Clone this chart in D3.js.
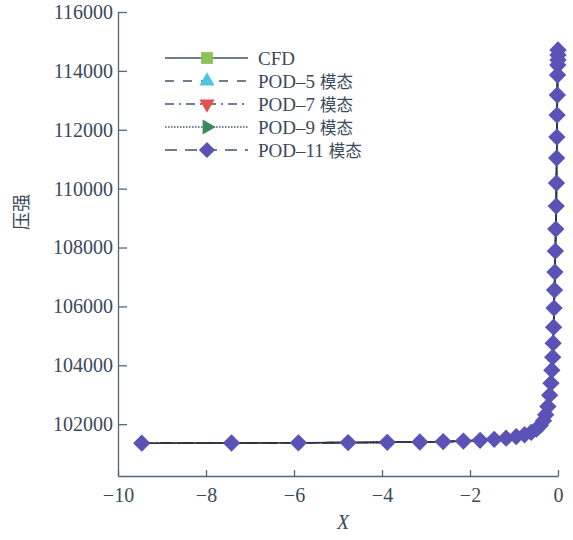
<!DOCTYPE html>
<html>
<head>
<meta charset="utf-8">
<script src="https://cdn.jsdelivr.net/npm/d3@7"></script>
<style>
  body { margin: 0; background: #fff; }
  svg text { font-family: "Liberation Serif", "DejaVu Serif", serif; fill: #3b4a5c; }
  .axis path, .axis line { stroke: #52677c; stroke-width: 1.3; }
  .axis text { font-size: 20px; }
</style>
</head>
<body>
<div id="chart"></div>
<script>
// x positions of mesh points
var xs = [-9.46, -7.42, -5.90, -4.77, -3.88, -3.14, -2.61, -2.15, -1.77, -1.45,
          -1.18, -0.95, -0.76, -0.61, -0.49, -0.40, -0.33, -0.28, -0.23, -0.19,
          -0.16, -0.14, -0.12, -0.11, -0.10, -0.09, -0.08, -0.07, -0.06, -0.05,
          -0.04, -0.035, -0.03, -0.025, -0.02, -0.015, -0.01, -0.005, 0, 0, 0];
// pressure, CFD
var cfd = [101354, 101360, 101368, 101375, 101384, 101395, 101408, 101425, 101452, 101485,
           101525, 101578, 101640, 101720, 101830, 101960, 102120, 102320, 102600, 102986,
           103394, 103835, 104277, 104752, 105296, 105942, 106554, 107165, 107879, 108626,
           109408, 110189, 111039, 111752, 112500, 113180, 113859, 114199, 114369, 114539, 114709];
// reduced models sit on top of the CFD curve
var pod5 = cfd.slice(), pod7 = cfd.slice(), pod9 = cfd.slice(), pod11 = cfd.slice();

var seriesNames = ["CFD", "POD\u20135 模态", "POD\u20137 模态", "POD\u20139 模态", "POD\u201311 模态"];
var seriesValues = [cfd, pod5, pod7, pod9, pod11];
var xTicks = [-10, -8, -6, -4, -2, 0];
var yTicks = [102000, 104000, 106000, 108000, 110000, 112000, 114000, 116000];

var styles = [
    {color: "#8dc15a", shape: "square", size: 140, dash: null},
    {color: "#4fc4e2", shape: "up", size: 100, dash: "9,9"},
    {color: "#e2524f", shape: "down", size: 100, dash: "9,5,2,5"},
    {color: "#3c8a5c", shape: "right", size: 100, dash: "1.5,1.5"},
    {color: "#5b52b6", shape: "diamond", size: 150, dash: "12,8"}
];

var w = 573, h = 540;
var svg = d3.select("#chart").append("svg").attr("width", w).attr("height", h);

var xScale = d3.scaleLinear().domain([-10, 0]).range([118, 558]);
var yScale = d3.scaleLinear().domain([100240, 116000]).range([476, 12]);

function symbolPath(shape, size) {
    if (shape == "square" || shape == "diamond") return d3.symbol().type(d3.symbolSquare).size(size)();
    return d3.symbol().type(d3.symbolTriangle).size(size)();
}
function symbolRot(shape) {
    return {square: 0, diamond: 45, up: 0, down: 180, right: 90}[shape];
}

// axes
var xAxis = d3.axisBottom(xScale).tickValues(xTicks).tickSizeInner(-6).tickSizeOuter(0).tickPadding(12);
svg.append("g").attr("class", "axis")
    .attr("transform", "translate(0," + yScale.range()[0] + ")")
    .call(xAxis);

var yAxis = d3.axisLeft(yScale).tickValues(yTicks).tickFormat(d3.format("d"))
    .tickSizeInner(-9).tickSizeOuter(0).tickPadding(5);
svg.append("g").attr("class", "axis")
    .attr("transform", "translate(" + xScale.range()[0] + ",0)")
    .call(yAxis);

svg.append("text").attr("x", 343).attr("y", 529).attr("text-anchor", "middle")
    .style("font-style", "italic").style("font-size", "20px").text("X");
svg.append("text").attr("transform", "translate(28,212) rotate(-90)")
    .attr("text-anchor", "middle")
    .style("font-family", "'Noto Sans CJK SC', sans-serif").style("font-size", "18px")
    .text("压强");

// curves
var line = d3.line().x(function(d) { return xScale(d[0]); }).y(function(d) { return yScale(d[1]); });
seriesValues.forEach(function(vals, i) {
    var pts = xs.map(function(x, j) { return [x, vals[j]]; });
    svg.append("path").datum(pts)
        .attr("d", line)
        .attr("fill", "none")
        .attr("stroke", "#2e3440")
        .attr("stroke-width", 1.6)
        .attr("stroke-dasharray", styles[i].dash);
});
// markers; the POD-11 diamonds are drawn last and hide the rest
seriesValues.forEach(function(vals, i) {
    var st = styles[i],
        sz = (i == seriesValues.length - 1) ? st.size : st.size * 0.4;
    svg.append("g").selectAll("path")
        .data(xs.map(function(x, j) { return [x, vals[j]]; }))
        .enter().append("path")
        .attr("d", symbolPath(st.shape, sz))
        .attr("transform", function(d) {
            return "translate(" + xScale(d[0]) + "," + yScale(d[1]) + ") rotate(" + symbolRot(st.shape) + ")";
        })
        .attr("fill", st.color);
});

// legend
var leg = svg.append("g").attr("transform", "translate(165,58)");
seriesNames.forEach(function(name, i) {
    var st = styles[i], y = i * 23;
    leg.append("line").attr("x1", 0).attr("x2", 83).attr("y1", y).attr("y2", y)
        .attr("stroke", "#3e556c").attr("stroke-width", 1.6)
        .attr("stroke-dasharray", st.dash);
    leg.append("path").attr("d", symbolPath(st.shape, i == 4 ? 130 : st.size))
        .attr("transform", "translate(42," + y + ") rotate(" + symbolRot(st.shape) + ")")
        .attr("fill", st.color);
    var t = leg.append("text").attr("x", 93).attr("y", y + 7).style("font-size", "19px");
    var parts = name.split(" ");
    t.append("tspan").text(parts[0]);
    if (parts[1]) {
        t.append("tspan").attr("dx", 5)
            .style("font-family", "'Noto Sans CJK SC', sans-serif").style("font-size", "16.5px")
            .text(parts[1]);
    }
});
</script>
</body>
</html>
